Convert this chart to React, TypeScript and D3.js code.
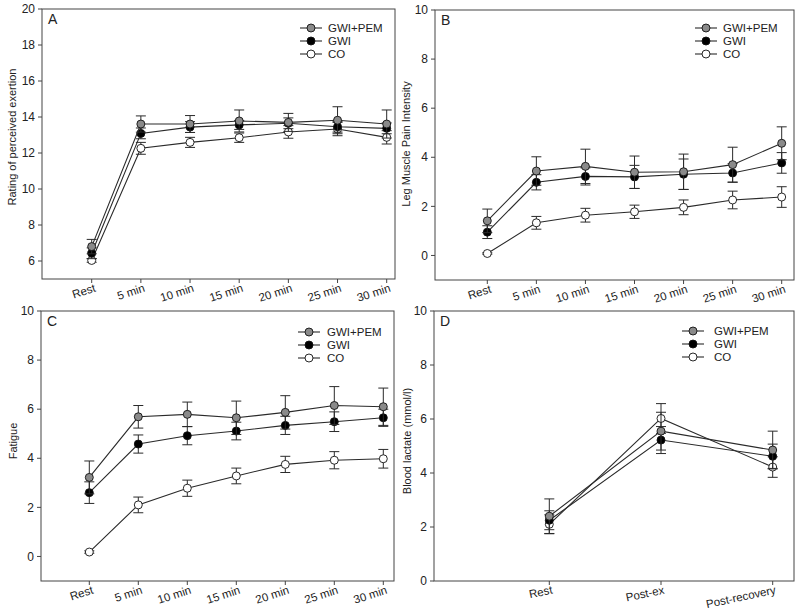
import React from 'react';
import * as d3 from 'd3';

// ---------- data ----------
const timeCats = ['Rest', '5 min', '10 min', '15 min', '20 min', '25 min', '30 min'];
const lactateCats = ['Rest', 'Post-ex', 'Post-recovery'];
const seriesNames = ['GWI+PEM', 'GWI', 'CO'];

const rpeGwiPem = [6.8, 13.61, 13.61, 13.78, 13.7, 13.82, 13.61];
const rpeGwiPemErr = [0.4, 0.45, 0.47, 0.61, 0.5, 0.75, 0.78];
const rpeGwi = [6.43, 13.09, 13.44, 13.56, 13.65, 13.46, 13.37];
const rpeGwiErr = [0.3, 0.3, 0.3, 0.25, 0.3, 0.3, 0.3];
const rpeCo = [6.03, 12.26, 12.59, 12.85, 13.17, 13.33, 12.87];
const rpeCoErr = [0.1, 0.33, 0.28, 0.26, 0.35, 0.37, 0.37];

const painGwiPem = [1.41, 3.44, 3.63, 3.39, 3.41, 3.7, 4.57];
const painGwiPemErr = [0.48, 0.58, 0.7, 0.66, 0.72, 0.71, 0.67];
const painGwi = [0.95, 2.98, 3.22, 3.2, 3.31, 3.36, 3.77];
const painGwiErr = [0.26, 0.31, 0.35, 0.47, 0.62, 0.38, 0.42];
const painCo = [0.08, 1.33, 1.64, 1.78, 1.96, 2.26, 2.38];
const painCoErr = [0.03, 0.26, 0.28, 0.27, 0.3, 0.36, 0.42];

const fatGwiPem = [3.22, 5.69, 5.79, 5.65, 5.87, 6.15, 6.1];
const fatGwiPemErr = [0.67, 0.46, 0.5, 0.68, 0.68, 0.77, 0.76];
const fatGwi = [2.6, 4.58, 4.92, 5.11, 5.34, 5.49, 5.65];
const fatGwiErr = [0.44, 0.37, 0.37, 0.36, 0.37, 0.4, 0.35];
const fatCo = [0.18, 2.1, 2.78, 3.28, 3.75, 3.92, 3.98];
const fatCoErr = [0.05, 0.32, 0.33, 0.32, 0.33, 0.35, 0.38];

const lacGwiPem = [2.4, 5.55, 4.85];
const lacGwiPemErr = [0.64, 0.7, 0.7];
const lacGwi = [2.25, 5.22, 4.62];
const lacGwiErr = [0.35, 0.5, 0.45];
const lacCo = [2.1, 6.02, 4.22];
const lacCoErr = [0.35, 0.55, 0.38];

const rpeTicks = [6, 8, 10, 12, 14, 16, 18, 20];
const tenTicks = [0, 2, 4, 6, 8, 10];

// ---------- styles ----------
const FONT = 'Liberation Sans, Arial, sans-serif';
const LINE = '#2a2a2a';
const FRAME = '#444';
const fills: Record<string, string> = { 'GWI+PEM': '#8a8a8a', GWI: '#000', CO: '#fff' };

type Series = { name: string; values: number[]; errs: number[] };
type Panel = {
  letter: string;
  title: string;
  cats: string[];
  series: Series[];
  yDomain: [number, number];
  yTicks: number[];
  frame: { left: number; right: number; top: number; bottom: number };
  xFirst: number;
  xLast: number;
  labelAngle: number;
  titleX: number;
  titleY: number;
  legend: { lineX1: number; lineX2: number; textX: number; rowY: number[] };
};

const panels: Panel[] = [
  {
    letter: 'A',
    title: 'Rating of perceived exertion',
    cats: timeCats,
    series: [
      { name: 'CO', values: rpeCo, errs: rpeCoErr },
      { name: 'GWI', values: rpeGwi, errs: rpeGwiErr },
      { name: 'GWI+PEM', values: rpeGwiPem, errs: rpeGwiPemErr },
    ],
    yDomain: [5, 20],
    yTicks: rpeTicks,
    frame: { left: 42, right: 395, top: 9, bottom: 279 },
    xFirst: 91.7,
    xLast: 386.7,
    labelAngle: -18,
    titleX: 12,
    titleY: 137,
    legend: { lineX1: 300, lineX2: 322, textX: 328, rowY: [28, 41, 54] },
  },
  {
    letter: 'B',
    title: 'Leg Muscle Pain Intensity',
    cats: timeCats,
    series: [
      { name: 'CO', values: painCo, errs: painCoErr },
      { name: 'GWI', values: painGwi, errs: painGwiErr },
      { name: 'GWI+PEM', values: painGwiPem, errs: painGwiPemErr },
    ],
    yDomain: [-1, 10],
    yTicks: tenTicks,
    frame: { left: 435, right: 794, top: 10, bottom: 280 },
    xFirst: 487.3,
    xLast: 781.7,
    labelAngle: -18,
    titleX: 406,
    titleY: 144,
    legend: { lineX1: 695, lineX2: 717, textX: 723, rowY: [28, 41, 54] },
  },
  {
    letter: 'C',
    title: 'Fatigue',
    cats: timeCats,
    series: [
      { name: 'CO', values: fatCo, errs: fatCoErr },
      { name: 'GWI', values: fatGwi, errs: fatGwiErr },
      { name: 'GWI+PEM', values: fatGwiPem, errs: fatGwiPemErr },
    ],
    yDomain: [-1, 10],
    yTicks: tenTicks,
    frame: { left: 41, right: 394, top: 311, bottom: 581 },
    xFirst: 89.3,
    xLast: 383.3,
    labelAngle: -18,
    titleX: 13,
    titleY: 441,
    legend: { lineX1: 298, lineX2: 320, textX: 327, rowY: [332, 345, 358] },
  },
  {
    letter: 'D',
    title: 'Blood lactate (mmol/l)',
    cats: lactateCats,
    series: [
      { name: 'CO', values: lacCo, errs: lacCoErr },
      { name: 'GWI', values: lacGwi, errs: lacGwiErr },
      { name: 'GWI+PEM', values: lacGwiPem, errs: lacGwiPemErr },
    ],
    yDomain: [0, 10],
    yTicks: tenTicks,
    frame: { left: 434, right: 794, top: 311, bottom: 581 },
    xFirst: 549.3,
    xLast: 772.7,
    labelAngle: -12,
    titleX: 407,
    titleY: 441,
    legend: { lineX1: 682, lineX2: 704, textX: 714, rowY: [331, 344, 357] },
  },
];

const R = 4;

function PanelView({ p }: { p: Panel }) {
  const { frame } = p;
  const x = d3.scaleLinear().domain([0, p.cats.length - 1]).range([p.xFirst, p.xLast]);
  const y = d3.scaleLinear().domain(p.yDomain).range([frame.bottom, frame.top]);
  const line = d3
    .line<number>()
    .x((_, i) => x(i))
    .y((d) => y(d));
  return (
    <g>
      <rect
        x={frame.left}
        y={frame.top}
        width={frame.right - frame.left}
        height={frame.bottom - frame.top}
        fill="none"
        stroke={FRAME}
        strokeWidth={1}
      />
      {p.yTicks.map((t) => (
        <g key={'y' + t}>
          <line x1={frame.left - 4} x2={frame.left} y1={y(t)} y2={y(t)} stroke={FRAME} />
          <text
            x={frame.left - 7}
            y={y(t)}
            dy="0.35em"
            textAnchor="end"
            fontSize={12}
            fontFamily={FONT}
            fill="#222"
          >
            {t}
          </text>
        </g>
      ))}
      {p.cats.map((c, i) => (
        <g key={'x' + c}>
          <line x1={x(i)} x2={x(i)} y1={frame.bottom} y2={frame.bottom + 4} stroke={FRAME} />
          <text
            transform={`translate(${x(i) + 2},${frame.bottom + 4}) rotate(${p.labelAngle})`}
            dy="0.75em"
            textAnchor="end"
            fontSize={11.5}
            fontFamily={FONT}
            fill="#222"
          >
            {c}
          </text>
        </g>
      ))}
      <text
        transform={`translate(${p.titleX},${p.titleY}) rotate(-90)`}
        textAnchor="middle"
        dy="0.35em"
        fontSize={11}
        fontFamily={FONT}
        fill="#222"
      >
        {p.title}
      </text>
      <text x={frame.left + 6} y={frame.top + 15} fontSize={14} fontFamily={FONT} fill="#222">
        {p.letter}
      </text>
      {p.series.map((s) => (
        <g key={s.name}>
          {s.values.map((v, i) => (
            <g key={'e' + i} stroke={LINE} strokeWidth={1}>
              <line x1={x(i)} x2={x(i)} y1={y(v - s.errs[i])} y2={y(v + s.errs[i])} />
              <line x1={x(i) - 5} x2={x(i) + 5} y1={y(v + s.errs[i])} y2={y(v + s.errs[i])} />
              <line x1={x(i) - 5} x2={x(i) + 5} y1={y(v - s.errs[i])} y2={y(v - s.errs[i])} />
            </g>
          ))}
          <path d={line(s.values) || ''} fill="none" stroke={LINE} strokeWidth={1.1} />
          {s.values.map((v, i) => (
            <circle key={'c' + i} cx={x(i)} cy={y(v)} r={R} fill={fills[s.name]} stroke="#111" strokeWidth={0.9} />
          ))}
        </g>
      ))}
      {seriesNames.map((name, k) => {
        const ly = p.legend.rowY[k];
        const cx = (p.legend.lineX1 + p.legend.lineX2) / 2;
        return (
          <g key={'l' + name}>
            <line x1={p.legend.lineX1} x2={p.legend.lineX2} y1={ly} y2={ly} stroke={LINE} strokeWidth={1.1} />
            <circle cx={cx} cy={ly} r={R} fill={fills[name]} stroke="#111" strokeWidth={0.9} />
            <text x={p.legend.textX} y={ly} dy="0.35em" fontSize={11.5} fontFamily={FONT} fill="#222">
              {name}
            </text>
          </g>
        );
      })}
    </g>
  );
}

export default function App() {
  return (
    <svg
      width={800}
      height={616}
      style={{ position: 'absolute', left: 0, top: 0, background: '#fff' }}
    >
      <rect x={0} y={0} width={800} height={616} fill="#fff" />
      {panels.map((p) => (
        <PanelView key={p.letter} p={p} />
      ))}
    </svg>
  );
}
